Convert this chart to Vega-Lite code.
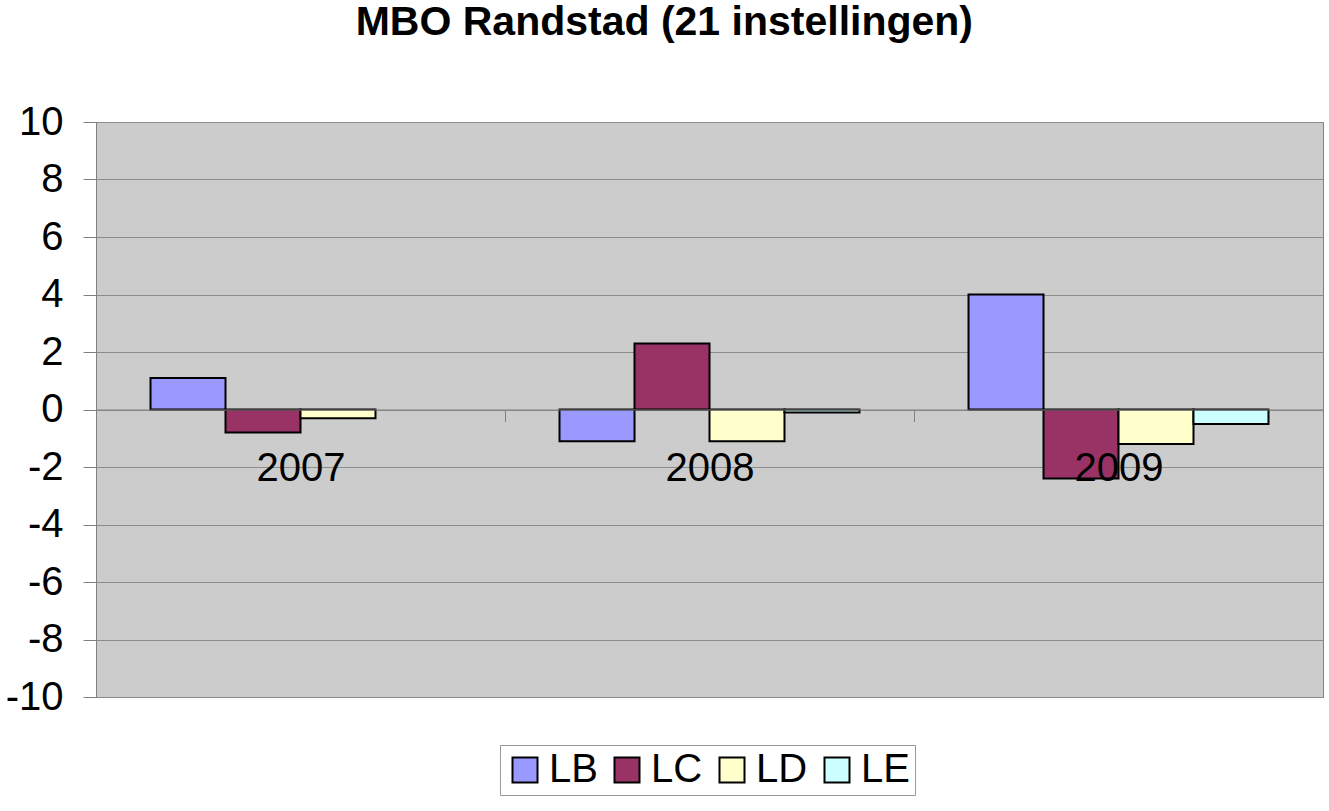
{
  "$schema": "https://vega.github.io/schema/vega-lite/v6.json",
  "autosize": "none",
  "width": 1227,
  "height": 575,
  "padding": {"left": 96, "top": 122, "right": 6, "bottom": 114},
  "background": "white",
  "title": {"text": "MBO Randstad (21 instellingen)", "fontSize": 41, "fontWeight": "bold", "font": "Liberation Sans", "color": "black", "anchor": "middle", "frame": "bounds", "baseline": "alphabetic", "offset": 26},
  "data": {"values": [
    {"year": "2007", "series": "LB", "value": 1.1},
    {"year": "2007", "series": "LC", "value": -0.8},
    {"year": "2007", "series": "LD", "value": -0.3},
    {"year": "2008", "series": "LB", "value": -1.1},
    {"year": "2008", "series": "LC", "value": 2.3},
    {"year": "2008", "series": "LD", "value": -1.1},
    {"year": "2008", "series": "LE", "value": -0.1},
    {"year": "2009", "series": "LB", "value": 4.0},
    {"year": "2009", "series": "LC", "value": -2.4},
    {"year": "2009", "series": "LD", "value": -1.2},
    {"year": "2009", "series": "LE", "value": -0.5}
  ]},
  "mark": {"type": "bar", "stroke": "black", "strokeWidth": 2},
  "encoding": {
    "x": {"field": "year", "type": "nominal",
      "scale": {"paddingInner": 0, "paddingOuter": 0},
      "axis": {"orient": "bottom", "offset": -287.5, "title": null, "labelAngle": 0, "labelFontSize": 40, "labelColor": "black", "domainColor": "#808080", "tickColor": "#808080", "tickSize": 12, "tickBand": "extent", "labelPadding": 27, "zindex": 1, "grid": false}},
    "xOffset": {"field": "series", "type": "nominal", "scale": {"domain": ["LB", "LC", "LD", "LE"], "paddingOuter": 0.727, "paddingInner": 0}},
    "y": {"field": "value", "type": "quantitative",
      "scale": {"domain": [-10, 10], "nice": false},
      "axis": {"values": [-10, -8, -6, -4, -2, 0, 2, 4, 6, 8, 10], "labelExpr": "datum.value < 0 ? '-' + abs(datum.value) : '' + datum.value", "title": null, "labelFontSize": 40, "labelColor": "black", "tickSize": 13, "tickColor": "#808080", "domainColor": "#808080", "gridColor": "#8c8c8c", "labelPadding": 20}},
    "color": {"field": "series", "type": "nominal",
      "scale": {"domain": ["LB", "LC", "LD", "LE"], "range": ["#9999FF", "#993366", "#FFFFCC", "#CCFFFF"]},
      "legend": {"orient": "none", "legendX": 404, "legendY": 623, "direction": "horizontal", "title": null, "symbolType": "square", "symbolSize": 625, "symbolStrokeColor": "black", "symbolStrokeWidth": 2, "symbolOpacity": 1, "labelFontSize": 40, "labelColor": "black", "strokeColor": "#999999", "fillColor": "white", "padding": 5, "columnPadding": 9, "labelOffset": 4}}
  },
  "config": {
    "font": "Liberation Sans",
    "view": {"fill": "#cccccc", "stroke": "#808080"}
  }
}
